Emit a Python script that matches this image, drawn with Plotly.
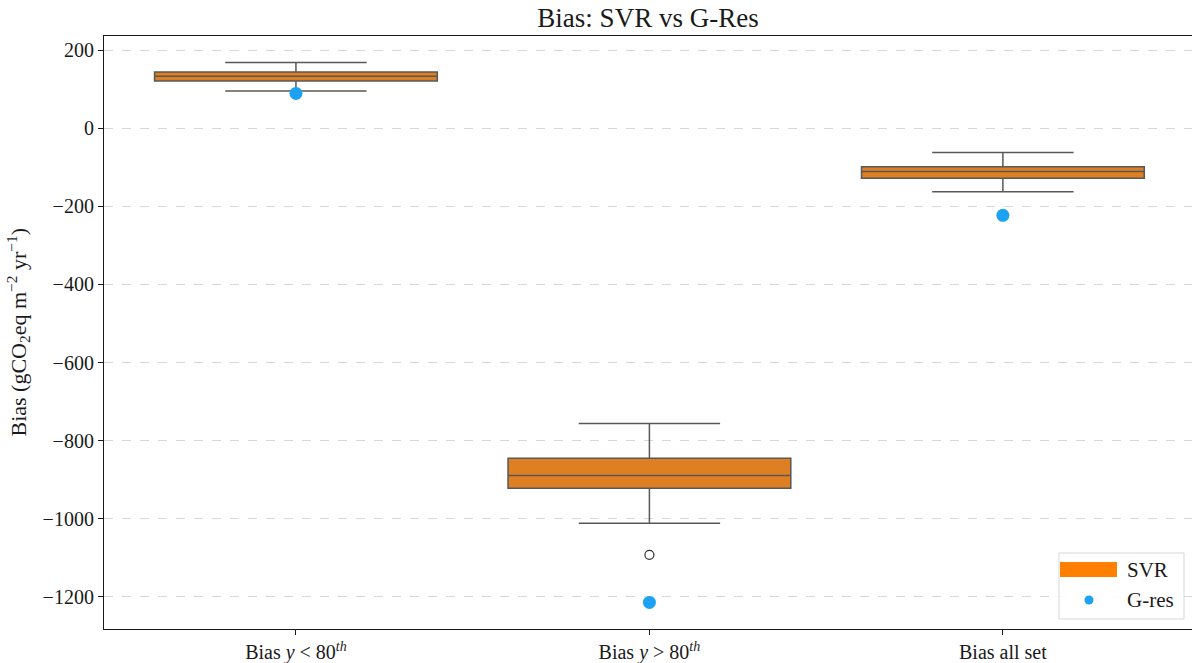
import plotly.graph_objects as go

# Per-category SVR bias statistics (gCO2eq m^-2 yr^-1)
categories = ["lt80", "gt80", "all"]
tick_labels = [
    "Bias <i>y</i> &lt; 80<sup><i>th</i></sup>",
    "Bias <i>y</i> &gt; 80<sup><i>th</i></sup>",
    "Bias all set",
]
svr_lower = [95, -1011, -163]
svr_q1 = [121, -922, -128]
svr_median = [133, -889, -111]
svr_q3 = [144, -845, -99]
svr_upper = [168, -756, -62]

# SVR outliers beyond the whiskers
outlier_cat = ["gt80"]
outlier_val = [-1092]

# G-res bias per category
gres_bias = [89, -1214, -223]

# y-axis ticks
y_ticks = [200, 0, -200, -400, -600, -800, -1000, -1200]
y_tick_text = [str(v).replace("-", "\u2212") for v in y_ticks]

FONT = "Liberation Serif"
TEXT = "#1a1a1a"
BOX_FILL = "rgb(221,127,34)"
BOX_LINE = "rgb(88,88,88)"
GRES_BLUE = "rgb(29,161,242)"
LEGEND_ORANGE = "rgb(255,127,0)"

fig = go.Figure()

fig.add_trace(go.Box(
    x=categories,
    q1=svr_q1,
    median=svr_median,
    q3=svr_q3,
    lowerfence=svr_lower,
    upperfence=svr_upper,
    width=0.8,
    whiskerwidth=0.5,
    fillcolor=BOX_FILL,
    line=dict(color=BOX_LINE, width=1.5),
    boxpoints=False,
    showlegend=False,
    hoverinfo="skip",
))

fig.add_trace(go.Scatter(
    x=outlier_cat,
    y=outlier_val,
    mode="markers",
    marker=dict(symbol="circle", size=9, color="white",
                line=dict(color="rgb(50,50,50)", width=1.2)),
    showlegend=False,
))

fig.add_trace(go.Scatter(
    x=categories,
    y=gres_bias,
    mode="markers",
    marker=dict(symbol="circle", size=13, color=GRES_BLUE, line=dict(width=0)),
    showlegend=False,
))

# Plot area in pixels (for placing the hand-drawn legend and y title)
W, H = 1192, 663
L, R, T, B = 104, 0, 36, 34
pw, ph = W - L - R, H - T - B


def px_x(px):
    return (px - L) / pw


def px_y(py):
    return (H - B - py) / ph


shapes = [
    # legend frame
    dict(type="rect", xref="paper", yref="paper",
         x0=px_x(1059), x1=px_x(1184), y0=px_y(619), y1=px_y(553),
         line=dict(color="rgb(215,215,215)", width=1),
         fillcolor="rgba(255,255,255,0.85)", layer="above"),
    # SVR patch
    dict(type="rect", xref="paper", yref="paper",
         x0=px_x(1060), x1=px_x(1117), y0=px_y(577), y1=px_y(562),
         line=dict(width=0), fillcolor=LEGEND_ORANGE, layer="above"),
    # G-res marker
    dict(type="circle", xref="paper", yref="paper",
         x0=px_x(1084.5), x1=px_x(1093.5), y0=px_y(604.5), y1=px_y(595.5),
         line=dict(width=0), fillcolor=GRES_BLUE, layer="above"),
]

annotations = [
    dict(text="SVR", xref="paper", yref="paper", x=px_x(1125), y=px_y(570),
         xanchor="left", yanchor="middle", showarrow=False,
         font=dict(family=FONT, size=21, color=TEXT)),
    dict(text="G-res", xref="paper", yref="paper", x=px_x(1125), y=px_y(600),
         xanchor="left", yanchor="middle", showarrow=False,
         font=dict(family=FONT, size=21, color=TEXT)),
    dict(text="Bias (gCO<sub>2</sub>eq m<sup>\u22122</sup> yr<sup>\u22121</sup>)",
         xref="paper", yref="paper", x=px_x(18), y=0.5, textangle=-90,
         xanchor="center", yanchor="middle", showarrow=False,
         font=dict(family=FONT, size=22, color=TEXT)),
]

fig.update_layout(
    width=W, height=H,
    margin=dict(l=L, r=R, t=T, b=B, pad=0, autoexpand=False),
    paper_bgcolor="white",
    plot_bgcolor="white",
    font=dict(family=FONT, size=20, color=TEXT),
    title=dict(text="Bias: SVR vs G-Res", x=(648 / W), xanchor="center",
               y=1 - 18 / H, yanchor="middle",
               font=dict(family=FONT, size=27, color=TEXT)),
    shapes=shapes,
    annotations=annotations,
    showlegend=False,
)

fig.update_xaxes(
    type="category",
    categoryorder="array",
    categoryarray=categories,
    tickvals=categories,
    ticktext=tick_labels,
    range=[-0.543, 2.535],
    automargin=False,
    showgrid=False,
    zeroline=False,
    showline=True, mirror=True, linecolor=TEXT, linewidth=1.2,
    ticks="outside", ticklen=5, tickwidth=1.2, tickcolor=TEXT,
    tickfont=dict(family=FONT, size=20, color=TEXT),
)

fig.update_yaxes(
    range=[-1282, 236],
    tickmode="array",
    tickvals=y_ticks,
    ticktext=y_tick_text,
    automargin=False,
    showgrid=True, gridcolor="rgb(215,215,215)", griddash="dash", gridwidth=1,
    zeroline=False,
    showline=True, mirror=False, linecolor=TEXT, linewidth=1.2,
    ticks="outside", ticklen=5, tickwidth=1.2, tickcolor=TEXT,
    tickfont=dict(family=FONT, size=20, color=TEXT),
)

fig.write_html("out.html")
